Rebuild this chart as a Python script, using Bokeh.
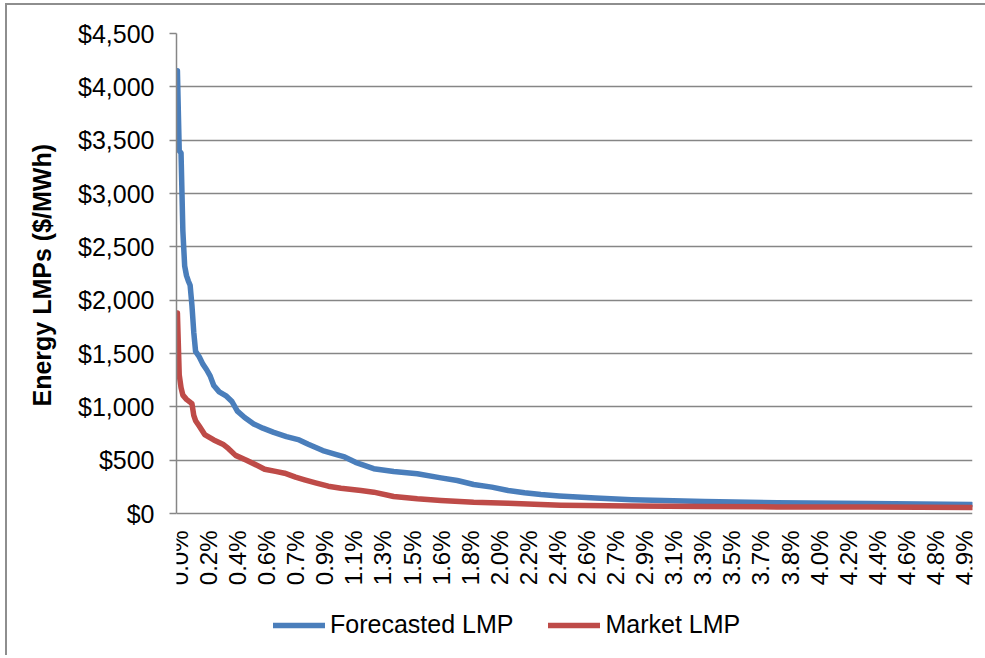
import math
from bokeh.plotting import figure
from bokeh.models import (Range1d, FixedTicker, NumeralTickFormatter, Legend, LegendItem,
                          ColumnDataSource, Title)
from bokeh.core.properties import value
from bokeh.embed import file_html
from bokeh.resources import INLINE

# ---- data ----
n_points = 438  # hours in the top 5% of the year
tick_every = 16
tick_labels = ["0.0%", "0.2%", "0.4%", "0.6%", "0.7%", "0.9%", "1.1%", "1.3%", "1.5%", "1.6%",
               "1.8%", "2.0%", "2.2%", "2.4%", "2.6%", "2.7%", "2.9%", "3.1%", "3.3%", "3.5%",
               "3.7%", "3.8%", "4.0%", "4.2%", "4.4%", "4.6%", "4.8%", "4.9%"]

forecast_idx = [0, 1, 2, 3, 4, 5, 6, 7, 8, 9, 10, 12, 14, 16, 18, 20, 23, 27, 30, 33, 37, 42, 47,
                53, 60, 67, 72, 80, 88, 92, 98, 108, 119, 132, 145, 154, 163, 173, 182, 191, 200,
                210, 230, 250, 290, 330, 380, 437]
forecast_val = [4150, 3400, 3380, 2650, 2320, 2230, 2180, 2140, 1950, 1700, 1520, 1470, 1400, 1350,
                1290, 1200, 1140, 1100, 1050, 960, 900, 840, 800, 760, 720, 690, 650, 590, 550,
                530, 480, 420, 394, 372, 334, 309, 272, 247, 216, 194, 178, 165, 145, 130, 112,
                101, 93, 85]

market_idx = [0, 1, 2, 3, 5, 8, 9, 10, 12, 15, 20, 25, 28, 32, 38, 44, 48, 54, 59, 65, 70, 76, 83,
              90, 101, 108, 119, 132, 145, 163, 182, 200, 211, 250, 290, 330, 380, 437]
market_val = [1880, 1300, 1180, 1110, 1070, 1030, 920, 870, 820, 740, 690, 650, 610, 545, 500, 450,
              415, 395, 378, 341, 316, 288, 256, 237, 216, 200, 159, 138, 122, 106, 97, 84, 78, 70,
              65, 62, 60, 57]

y_ticks = [0, 500, 1000, 1500, 2000, 2500, 3000, 3500, 4000, 4500]

# ---- styling ----
FONT = "Liberation Sans"
GRID = "#868686"
BLUE = "#4A7EBB"
RED = "#BE4B48"

y_max = 4500
plot_px = 480            # pixel height of the 0..4500 value band
frame_px = 620           # frame extends below 0 to hold category labels and legend
y_min = -y_max * (frame_px - plot_px) / plot_px

p = figure(frame_width=796, frame_height=frame_px, output_backend="svg", toolbar_location=None,
           x_range=Range1d(-0.5, n_points - 0.5), y_range=Range1d(y_min, y_max),
           x_axis_location=None,
           min_border_left=167, min_border_right=14, min_border_top=28, min_border_bottom=2)
p.margin = (3, 0, 0, 5)
p.styles = {"border-top": "2px solid #8e8e8e", "border-left": "2px solid #8e8e8e"}
p.outline_line_color = None
p.background_fill_color = "white"
p.border_fill_color = "white"

src_f = ColumnDataSource(dict(x=forecast_idx, y=forecast_val))
src_m = ColumnDataSource(dict(x=market_idx, y=market_val))
rf = p.line("x", "y", source=src_f, line_color=BLUE, line_width=5.5,
            line_join="round", line_cap="round")
rm = p.line("x", "y", source=src_m, line_color=RED, line_width=5.5,
            line_join="round", line_cap="round")

# y axis
p.yaxis.ticker = FixedTicker(ticks=y_ticks)
p.yaxis.bounds = (0, y_max)
p.yaxis.formatter = NumeralTickFormatter(format="$0,0")
p.yaxis.major_label_text_font = FONT
p.yaxis.major_label_text_font_size = "25px"
p.yaxis.major_label_text_color = "black"
p.yaxis.major_label_standoff = 15
p.yaxis.major_tick_out = 7
p.yaxis.major_tick_in = 0
p.yaxis.minor_tick_line_color = None
p.yaxis.axis_line_color = GRID
p.yaxis.axis_line_width = 1.5
p.yaxis.major_tick_line_color = GRID
p.yaxis.major_tick_line_width = 1.5

# y axis title, centred on the value band (not on the taller frame)
p.add_layout(Title(text="Energy LMPs ($/MWh)", align="left", offset=247,
                   vertical_align="middle", text_font=FONT, text_font_style="bold",
                   text_font_size="25px", text_color="black", standoff=38), "left")

p.xgrid.grid_line_color = None
p.ygrid.grid_line_color = GRID
p.ygrid.grid_line_width = 1.5

# category (x) labels, rotated, hung below the $0 baseline
x_ticks = [i * tick_every for i in range(len(tick_labels))]
lab_src = ColumnDataSource(dict(x=x_ticks, y=[0] * len(x_ticks), text=tick_labels))
p.text("x", "y", text="text", source=lab_src, angle=math.pi / 2, x_offset=2, y_offset=17,
       text_align="right", text_baseline="middle", text_font=value(FONT),
       text_font_size="24px", text_color="black")

legend = Legend(items=[LegendItem(label="Forecasted LMP", renderers=[rf]),
                       LegendItem(label="Market LMP", renderers=[rm])],
                orientation="horizontal", location=(97, 14),
                label_text_font=FONT, label_text_font_size="25px", label_text_color="black",
                glyph_width=52, glyph_height=20, label_standoff=5, spacing=35,
                border_line_color=None, background_fill_alpha=0,
                padding=0, margin=0)
p.add_layout(legend, "center")

open("out.html", "w").write(file_html(p, INLINE))
